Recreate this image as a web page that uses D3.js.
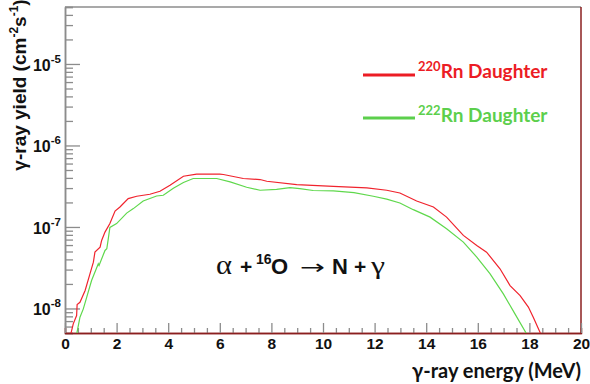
<!DOCTYPE html>
<html>
<head>
<meta charset="UTF-8">
<script src="https://d3js.org/d3.v7.min.js"></script>
<style>
  body { margin: 0; background: #fff; }
  svg { display: block; }
  .tick text { font-family: 'Liberation Sans', Arial, sans-serif; font-weight: bold; }
</style>
</head>
<body>
<svg id="chart" width="590" height="384"></svg>
<script>
// gamma-ray energy (MeV) and yield (cm^-2 s^-1)
const rnE220 = [0.2, 0.32, 0.45, 0.47, 0.58, 0.78, 0.97, 1.1, 1.16, 1.36, 1.42, 1.55, 1.74, 1.94, 2.13, 2.45, 2.78, 3.29, 3.68, 4.07, 4.59, 5.1, 6.0, 6.14, 6.91, 7.56, 7.82, 8.98, 10.4, 11.7, 12.47, 12.98, 13.63, 14.28, 14.79, 15.44, 15.96, 16.34, 16.86, 17.25, 17.64, 17.96, 18.15, 18.41, 18.5];
const rnY220 = [4.5e-9, 6.47e-9, 8.18e-9, 1.12e-8, 1.19e-8, 1.66e-8, 2.67e-8, 3.7e-8, 4.91e-8, 5.66e-8, 6.84e-8, 8.65e-8, 1.1e-7, 1.57e-7, 1.76e-7, 2.23e-7, 2.38e-7, 2.52e-7, 2.74e-7, 3.25e-7, 4.19e-7, 4.44e-7, 4.44e-7, 4.4e-7, 3.93e-7, 3.82e-7, 3.64e-7, 3.31e-7, 3.15e-7, 3.01e-7, 2.82e-7, 2.61e-7, 2.08e-7, 1.76e-7, 1.32e-7, 7.88e-8, 5.94e-8, 4.91e-8, 3.07e-8, 1.91e-8, 1.44e-8, 1.04e-8, 7.8e-9, 5.1e-9, 4.5e-9];

const rnE222 = [0.45, 0.58, 0.71, 0.84, 1.03, 1.29, 1.32, 1.55, 1.62, 1.68, 1.74, 2.0, 2.39, 2.65, 3.03, 3.55, 3.81, 4.2, 4.59, 4.97, 5.88, 6.4, 7.04, 7.56, 8.2, 8.72, 9.1, 9.62, 10.4, 11.2, 11.95, 12.47, 12.98, 13.5, 14.15, 14.79, 15.44, 15.96, 16.47, 16.99, 17.44, 17.89, 17.95];
const rnY222 = [4.8e-9, 7.8e-9, 9.89e-9, 1.37e-8, 2.2e-8, 3.54e-8, 3.37e-8, 5.15e-8, 5.4e-8, 7.24e-8, 9.89e-8, 1.1e-7, 1.48e-7, 1.68e-7, 2.08e-7, 2.4e-7, 2.45e-7, 2.99e-7, 3.51e-7, 3.93e-7, 3.93e-7, 3.57e-7, 3.07e-7, 2.82e-7, 2.9e-7, 3.04e-7, 2.96e-7, 2.8e-7, 2.77e-7, 2.64e-7, 2.38e-7, 2.2e-7, 1.97e-7, 1.63e-7, 1.32e-7, 9.53e-8, 6.52e-8, 4.27e-8, 2.67e-8, 1.51e-8, 8.59e-9, 4.88e-9, 4.5e-9];

const xTicks = [0, 2, 4, 6, 8, 10, 12, 14, 16, 18, 20];
const yMajor = [1e-8, 1e-7, 1e-6, 1e-5];
const yExp = ["-8", "-7", "-6", "-5"];

const svg = d3.select("#chart");
const mLeft = 65, mRight = 581, mTop = 7, mBottom = 333;

const x = d3.scaleLinear().domain([0, 20]).range([mLeft, mRight]);
const y = d3.scaleLog().domain([5e-9, 5e-5]).range([mBottom, mTop]);

const axisGrey = "#8c8c8c";
const axisRed = "#8b1f1f";

// top frame and right frame
svg.append("line").attr("x1", mLeft).attr("x2", mRight).attr("y1", mTop).attr("y2", mTop)
  .attr("stroke", axisGrey).attr("stroke-width", 1.5);
svg.append("line").attr("x1", mRight).attr("x2", mRight).attr("y1", mTop).attr("y2", mBottom)
  .attr("stroke", axisRed).attr("stroke-width", 1.5);

// y minor ticks
const yMinor = [];
[1e-9, 1e-8, 1e-7, 1e-6, 1e-5].forEach(d => {
  for (let k = 2; k <= 9; k++) {
    const v = d * k;
    if (v >= 5e-9 && v <= 5e-5) yMinor.push(v);
  }
});

const gyMinor = svg.append("g").attr("transform", `translate(${mLeft},0)`)
  .call(d3.axisLeft(y).tickValues(yMinor).tickSize(-8).tickFormat(""));
const gyMajor = svg.append("g").attr("transform", `translate(${mLeft},0)`)
  .call(d3.axisLeft(y).tickValues(yMajor).tickSize(-15).tickSizeOuter(0).tickFormat(""));
[gyMinor, gyMajor].forEach(g => {
  g.selectAll(".tick line").attr("stroke", axisGrey).attr("stroke-width", 1.3);
  g.select(".domain").attr("stroke", axisGrey).attr("stroke-width", 1.5);
});

// y labels 10^n
const yl = svg.append("g");
yMajor.forEach((v, i) => {
  const t = yl.append("text")
    .attr("x", 61).attr("y", y(v) + 7)
    .attr("text-anchor", "end")
    .attr("font-family", "'Liberation Sans', Arial, sans-serif")
    .attr("font-weight", "bold").attr("font-size", 16).attr("fill", "#111");
  t.append("tspan").text("10");
  t.append("tspan").attr("font-size", 11.5).attr("dy", -8).text(yExp[i]);
});

// x axis
const xMinor = d3.range(0, 20.01, 0.5).filter(d => d % 2 !== 0);
const gxMinor = svg.append("g").attr("transform", `translate(0,${mBottom})`)
  .call(d3.axisBottom(x).tickValues(xMinor).tickSize(-5).tickFormat(""));
const gxMajor = svg.append("g").attr("transform", `translate(0,${mBottom})`)
  .call(d3.axisBottom(x).tickValues(xTicks).tickSize(-10).tickSizeOuter(0).tickPadding(5).tickFormat(d3.format("d")));
[gxMinor, gxMajor].forEach(g => {
  g.selectAll(".tick line").attr("stroke", axisGrey).attr("stroke-width", 1.3);
  g.select(".domain").attr("stroke", axisRed).attr("stroke-width", 1.5);
});
gxMajor.selectAll(".tick text").attr("font-size", 15.5).attr("fill", "#111");

// curves
svg.append("clipPath").attr("id", "plot-clip").append("rect")
  .attr("x", mLeft).attr("y", mTop).attr("width", mRight - mLeft).attr("height", mBottom - mTop);

const line = d3.line().x(d => x(d[0])).y(d => y(d[1]));
const series = [
  { e: rnE222, v: rnY222, color: "#5fd84c" },
  { e: rnE220, v: rnY220, color: "#f0232d" }
];
series.forEach(s => {
  svg.append("path")
    .datum(s.e.map((e, i) => [e, s.v[i]]))
    .attr("clip-path", "url(#plot-clip)")
    .attr("fill", "none")
    .attr("stroke", s.color)
    .attr("stroke-width", 1.2)
    .attr("d", line);
});

// legend
const legend = [
  { iso: "220", color: "#ec1c24", y: 75, base: 78 },
  { iso: "222", color: "#5ccf4c", y: 118, base: 121.5 }
];
legend.forEach(l => {
  svg.append("line").attr("x1", 363).attr("x2", 415).attr("y1", l.y).attr("y2", l.y)
    .attr("stroke", l.color).attr("stroke-width", 3);
  const t = svg.append("text").attr("x", 418).attr("y", l.base)
    .attr("font-family", "Lato, 'Open Sans', sans-serif").attr("font-weight", "bold")
    .attr("font-size", 19).attr("fill", l.color);
  t.append("tspan").attr("font-size", 13).attr("dy", -7).text(l.iso);
  t.append("tspan").attr("dy", 7).text("Rn Daughter");
});

// reaction label
const fSans = "'Liberation Sans', Arial, sans-serif";
const fSerif = "'Liberation Serif', 'DejaVu Serif', serif";
const rxBase = 274;
const rxParts = [
  { t: "α", x: 216, font: fSerif, size: 28, weight: "normal", dy: 0, len: 16 },
  { t: "+", x: 240, font: fSans, size: 21, weight: "bold", dy: 0 },
  { t: "16", x: 256, font: fSans, size: 14, weight: "bold", dy: -10 },
  { t: "O", x: 271, font: fSans, size: 22, weight: "bold", dy: 0 },
  { t: "N", x: 332, font: fSans, size: 22, weight: "bold", dy: 0 },
  { t: "+", x: 354, font: fSans, size: 21, weight: "bold", dy: 0 },
  { t: "γ", x: 371, font: fSerif, size: 25, weight: "normal", dy: 0, len: 14 }
];
const rx = svg.append("g").attr("fill", "#111");
rxParts.forEach(p => {
  const t = rx.append("text").attr("x", p.x).attr("y", rxBase + p.dy)
    .attr("font-family", p.font).attr("font-size", p.size).attr("font-weight", p.weight)
    .text(p.t);
  if (p.len) t.attr("textLength", p.len).attr("lengthAdjust", "spacingAndGlyphs");
});
rx.append("text").attr("x", 300).attr("y", rxBase)
  .attr("font-family", "'DejaVu Sans', sans-serif").attr("font-size", 20)
  .attr("textLength", 25).attr("lengthAdjust", "spacingAndGlyphs")
  .text("→");

// axis titles
const yt = svg.append("text")
  .attr("transform", "translate(26,85) rotate(-90)")
  .attr("text-anchor", "middle")
  .attr("font-family", fSans)
  .attr("font-weight", "bold").attr("font-size", 19).attr("fill", "#111");
yt.append("tspan").text("γ-ray yield (cm");
yt.append("tspan").attr("font-size", 12).attr("dy", -8).text("-2");
yt.append("tspan").attr("dy", 8).text("s");
yt.append("tspan").attr("font-size", 12).attr("dy", -8).text("-1");
yt.append("tspan").attr("dy", 8).text(")");

svg.append("text").attr("x", 581).attr("y", 378)
  .attr("text-anchor", "end")
  .attr("font-family", "Lato, 'Open Sans', sans-serif")
  .attr("font-weight", "bold").attr("font-size", 20).attr("fill", "#111")
  .text("γ-ray energy (MeV)");
</script>
</body>
</html>
